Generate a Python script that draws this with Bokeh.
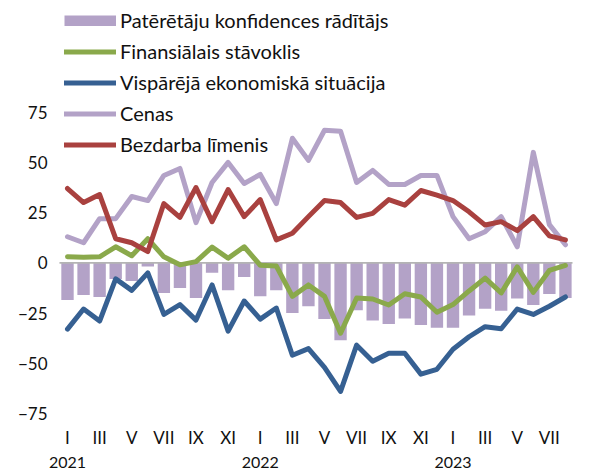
from bokeh.plotting import figure
from bokeh.models import ColumnDataSource, FixedTicker, LinearAxis, Legend, LegendItem, Range1d
from bokeh.embed import file_html
from bokeh.resources import INLINE

# ---- data -------------------------------------------------------------
years = ["2021", "2022", "2023"]
month_labels = ["I", "III", "V", "VII", "IX", "XI",
                "I", "III", "V", "VII", "IX", "XI",
                "I", "III", "V", "VII"]
series_names = ["Patērētāju konfidences rādītājs", "Finansiālais stāvoklis",
                "Vispārējā ekonomiskā situācija", "Cenas", "Bezdarba līmenis"]

confidence = [-18.5, -16, -17, -8, -9, -1.8, -15, -12.5, -17.5, -5, -13.7, -7,
              -16.7, -13.7, -25, -21.6, -28, -38.5, -23.6, -28.7, -30.4, -27.7, -31, -32.3,
              -32.3, -26.2, -22.8, -23.8, -17.8, -21, -15.5, -17.5]
financial = [3, 2.8, 3, 8, 3.5, 12, 3, -1, 0.6, 7.8, 2.3, 8,
             -1.2, -1.6, -16.7, -11, -16.7, -35, -17.5, -18, -21, -15.4, -17, -24.6,
             -20.8, -14, -7.6, -15, -2, -14.7, -3.8, -1.3]
economy = [-33, -23, -29, -8, -13.7, -5, -25.7, -20.8, -28.5, -11, -34, -19,
           -28, -22.5, -46, -42.7, -52, -64, -41, -49, -45, -45, -55.4, -53,
           -43, -36.8, -31.8, -32.8, -23, -25.7, -21.6, -17]
prices = [13, 10, 22, 22, 33, 31, 43.5, 47, 20, 40, 50, 39.5,
          44, 29.5, 62, 51, 66, 65.5, 40, 46, 39, 39, 43.5, 43.5,
          23, 12, 15.5, 23, 8, 55, 19, 9]
unemployment = [37, 30, 34, 12, 10, 5.6, 29.5, 22.6, 37.5, 20.5, 36.5, 23,
                31.5, 11.4, 14.7, 23, 31, 30, 22.6, 24.6, 31.5, 28.7, 36, 33.7,
                31, 25.4, 18.8, 20.5, 16, 23, 13.4, 11.4]
y_ticks = [-75, -50, -25, 0, 25, 50, 75]

# ---- styling ----------------------------------------------------------
BAR = "#b3a2c7"
GREEN = "#8aa94b"
BLUE = "#366092"
LILAC = "#b3a2c7"
RED = "#a9413f"
FONT = "Lato"
TXT = "#111111"

n = len(confidence)
xs = list(range(n))
src = ColumnDataSource(dict(x=xs, conf=confidence, fin=financial, eco=economy,
                            pr=prices, un=unemployment))

p = figure(width=602, height=470, output_backend="svg", toolbar_location=None,
           x_range=Range1d(-0.934, n - 0.56), y_range=Range1d(-77.5, 130.6),
           min_border_left=52, min_border_right=30, min_border_top=0, min_border_bottom=51)
p.outline_line_color = None
p.grid.visible = False

# bars
p.vbar(x="x", top="conf", bottom=0, width=0.77, source=src,
       fill_color=BAR, line_color=None)
# zero line
p.segment(x0=[-0.5], x1=[n - 0.5], y0=[0], y1=[0], line_color="#b4b4b4", line_width=1.6)

lw = 5
r_fin = p.line("x", "fin", source=src, line_color=GREEN, line_width=lw, line_join="round", line_cap="round")
r_eco = p.line("x", "eco", source=src, line_color=BLUE, line_width=lw, line_join="round", line_cap="round")
r_pr = p.line("x", "pr", source=src, line_color=LILAC, line_width=lw, line_join="round", line_cap="round")
r_un = p.line("x", "un", source=src, line_color=RED, line_width=lw, line_join="round", line_cap="round")
# legend key for the bars (no visible data of its own)
r_bar_key = p.line(x=[0, 1], y=[float("nan"), float("nan")], line_color=BAR,
                   line_width=11, line_cap="butt")

legend = Legend(items=[
    LegendItem(label=series_names[0], renderers=[r_bar_key]),
    LegendItem(label=series_names[1], renderers=[r_fin]),
    LegendItem(label=series_names[2], renderers=[r_eco]),
    LegendItem(label=series_names[3], renderers=[r_pr]),
    LegendItem(label=series_names[4], renderers=[r_un]),
])
legend.location = (12, 262)
legend.margin = 0
legend.padding = 0
legend.spacing = 7
legend.glyph_width = 52
legend.glyph_height = 11
legend.label_height = 20
legend.label_standoff = 4
legend.label_text_font = FONT
legend.label_text_font_size = "20px"
legend.label_text_color = TXT
legend.background_fill_alpha = 0
legend.border_line_color = None
p.add_layout(legend, "center")

# y axis
ya = p.yaxis[0]
ya.ticker = FixedTicker(ticks=y_ticks)
ya.axis_line_color = None
ya.major_tick_line_color = None
ya.minor_tick_line_color = None
ya.major_tick_out = 0
ya.major_tick_in = 0
ya.major_label_standoff = 5
ya.major_label_text_font = FONT
ya.major_label_text_font_size = "17px"
ya.major_label_text_color = TXT

# x axes
month_ticks = [2 * i for i in range(len(month_labels))]
xa = p.xaxis[0]
xa.ticker = FixedTicker(ticks=month_ticks)
xa.major_label_overrides = {t: lab for t, lab in zip(month_ticks, month_labels)}
year_ticks = [12 * i for i in range(len(years))]
ya2 = LinearAxis(ticker=FixedTicker(ticks=year_ticks),
                 major_label_overrides={t: lab for t, lab in zip(year_ticks, years)})
p.add_layout(ya2, "below")
for ax, st, fs in ((xa, 2, "17px"), (ya2, 0, "16px")):
    ax.axis_line_color = None
    ax.major_tick_line_color = None
    ax.minor_tick_line_color = None
    ax.major_label_standoff = st
    ax.major_label_text_font = FONT
    ax.major_label_text_font_size = fs
    ax.major_label_text_color = TXT

open("out.html", "w").write(file_html(p, INLINE))
